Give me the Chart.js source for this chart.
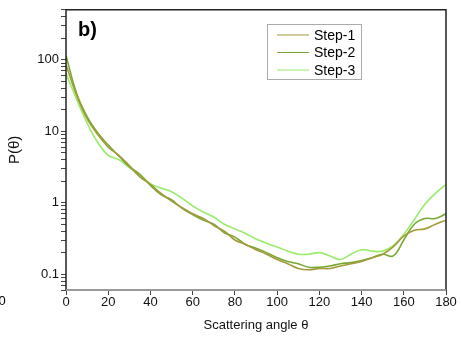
<!DOCTYPE html>
<html>
<head>
<meta charset="utf-8">
<script src="https://cdn.jsdelivr.net/npm/chart.js@4"></script>
<style>
  html, body { margin: 0; padding: 0; background: #fff; }
  #wrap { width: 461px; height: 341px; position: relative; }
</style>
</head>
<body>
<div id="wrap"><canvas id="chart" width="461" height="341"></canvas></div>
<script>
// scattering angle (deg)
const theta = [0,5,10,15,20,25,30,35,40,45,50,55,60,65,70,75,80,85,90,95,100,105,110,115,120,125,130,135,140,145,150,155,160,165,170,175,180];

const step1 = [85,32,15,9,6.0,4.6,3.3,2.3,1.8,1.35,1.05,0.85,0.7,0.6,0.48,0.4,0.3,0.26,0.22,0.19,0.16,0.14,0.12,0.115,0.12,0.12,0.13,0.14,0.15,0.17,0.19,0.24,0.34,0.41,0.43,0.5,0.57];
const step2 = [115,34,16,9.5,6.4,4.5,3.2,2.5,1.75,1.3,1.1,0.83,0.68,0.57,0.5,0.38,0.33,0.26,0.23,0.2,0.17,0.15,0.14,0.125,0.125,0.13,0.14,0.145,0.155,0.17,0.19,0.18,0.3,0.5,0.6,0.6,0.7];
const step3 = [64,28,13,7.0,4.6,4.0,3.1,2.4,1.85,1.6,1.42,1.15,0.9,0.74,0.63,0.5,0.43,0.37,0.31,0.27,0.24,0.21,0.19,0.19,0.2,0.18,0.16,0.19,0.22,0.21,0.21,0.25,0.36,0.58,0.95,1.35,1.8];

const seriesNames = ['Step-1','Step-2','Step-3'];
const seriesColors = ['#a39a3a','#78a832','#98ec6a'];
const xTicks = [0,20,40,60,80,100,120,140,160,180];
const yMajor = [0.1,1,10,100];

const toPts = arr => arr.map((v,i)=>({x:theta[i], y:v}));

// frame + legend + panel label
const extras = {
  id: 'extras',
  afterDraw(chart){
    const c = chart.ctx, a = chart.chartArea;
    c.save();
    c.strokeStyle = '#222';
    c.lineWidth = 1.5;
    c.beginPath();
    c.moveTo(a.left, a.bottom); c.lineTo(a.left, a.top); c.lineTo(a.right, a.top); c.lineTo(a.right, a.bottom);
    c.stroke();
    c.strokeStyle = '#999';
    c.lineWidth = 2;
    c.beginPath(); c.moveTo(a.left, a.bottom); c.lineTo(a.right, a.bottom); c.stroke();

    c.fillStyle = '#000';
    c.font = 'bold 20px "Liberation Sans", Arial, sans-serif';
    c.textBaseline = 'middle';
    c.fillText('b)', 78, 30);

    // stray label of neighbouring panel
    c.font = '13px "Liberation Sans", Arial, sans-serif';
    c.textAlign = 'center';
    c.fillText('0', 2, 301);
    c.textAlign = 'left';

    // legend
    c.strokeStyle = '#aaa';
    c.lineWidth = 1;
    c.strokeRect(267.5, 24.5, 94, 55);
    c.font = '14px "Liberation Sans", Arial, sans-serif';
    chart.data.datasets.forEach((ds,i)=>{
      const y = 35 + i*17.5;
      c.strokeStyle = ds.borderColor;
      c.lineWidth = 1;
      c.beginPath(); c.moveTo(277, y); c.lineTo(309, y); c.stroke();
      c.fillStyle = '#000';
      c.fillText(ds.label, 314, y+1);
    });
    c.restore();
  }
};

new Chart(document.getElementById('chart'), {
  type: 'line',
  data: {
    datasets: [step1, step2, step3].map((s,i)=>({
      label: seriesNames[i],
      data: toPts(s),
      borderColor: seriesColors[i],
      borderWidth: 1.6,
      pointRadius: 0,
      tension: 0.4,
      fill: false
    }))
  },
  options: {
    responsive: false,
    animation: false,
    layout: { padding: { left: 0, right: 15, top: 7, bottom: 0 } },
    plugins: { legend: { display: false }, tooltip: { enabled: false } },
    scales: {
      x: {
        type: 'linear', min: 0, max: 180,
        afterBuildTicks: s => { s.ticks = xTicks.map(v=>({value:v})); },
        afterFit: s => { s.height = 51; },
        grid: { drawOnChartArea: false, tickLength: 5, color: '#444' },
        border: { display: false },
        ticks: { color: '#111', padding: 0, maxRotation: 0, font: { size: 13, family: '"Liberation Sans", Arial, sans-serif' } },
        title: { display: true, text: 'Scattering angle \u03b8', color: '#111', padding: { top: 0, bottom: 8 }, font: { size: 13, family: '"Liberation Sans", Arial, sans-serif' } }
      },
      y: {
        type: 'logarithmic', min: 0.06, max: 500,
        afterBuildTicks: s => {
          const t = [];
          for (let e = -2; e <= 2; e++) for (let m = 1; m <= 9; m++) {
            const v = m * Math.pow(10, e);
            if (v >= 0.06 && v <= 500) t.push({value: +v.toPrecision(3)});
          }
          s.ticks = t;
        },
        afterFit: s => { s.width = 66; },
        grid: { drawOnChartArea: false, tickLength: 5, color: '#444' },
        border: { display: false },
        ticks: {
          color: '#111', padding: 2, autoSkip: false,
          font: { size: 13, family: '"Liberation Sans", Arial, sans-serif' },
          callback: v => yMajor.includes(v) ? String(v) : ''
        },
        title: { display: true, text: 'P(\u03b8)', color: '#111', padding: { top: 6, bottom: 0 }, font: { size: 15, family: '"Liberation Sans", Arial, sans-serif' } }
      }
    }
  },
  plugins: [extras]
});
</script>
</body>
</html>
